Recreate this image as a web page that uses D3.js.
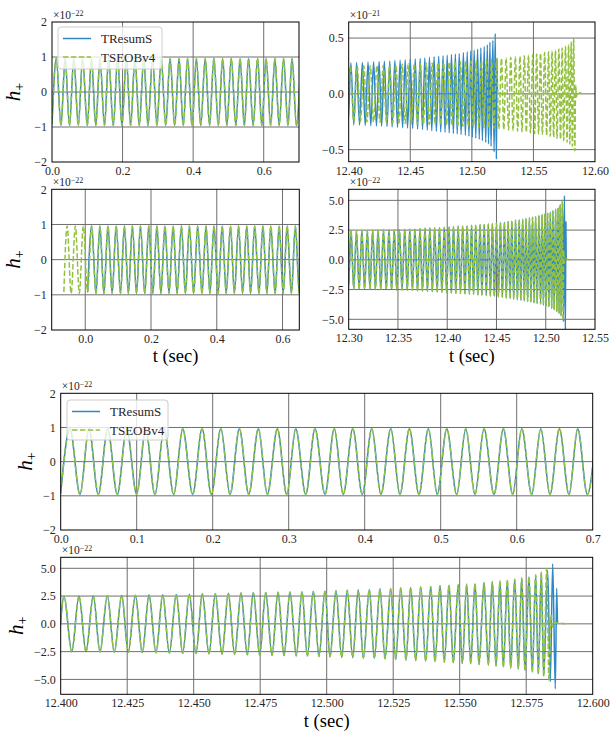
<!DOCTYPE html>
<html><head><meta charset="utf-8">
<script src="https://cdn.jsdelivr.net/npm/d3@7"></script>
<style>body{margin:0;background:#fff}svg{display:block}</style>
</head><body><svg id="c" width="611" height="731"></svg>
<script>
// ---------------- DATA (h+ in units of 1e-22, t in seconds) ----------------
// Early inspiral: extrema (troughs / peaks)
const earlyExtT = [0, 0.0122, 0.0254, 0.0372, 0.0495, 0.0618, 0.0745, 0.0868, 0.1, 0.1118,
  0.124, 0.136, 0.1487, 0.1605, 0.1737, 0.186, 0.1982, 0.2107, 0.2228, 0.2351,
  0.2474, 0.2601, 0.2719, 0.2851, 0.2974, 0.3093, 0.3224, 0.3346, 0.3478, 0.36,
  0.3718, 0.3843, 0.3968, 0.4093, 0.4214, 0.4343, 0.4464, 0.4588, 0.4714, 0.4838,
  0.4955, 0.508, 0.521, 0.533, 0.5451, 0.557, 0.5701, 0.5825, 0.5947, 0.6067,
  0.6197, 0.6317, 0.6438, 0.6562, 0.6688, 0.6803, 0.6929, 0.705];
const earlyExtV = [-0.92, 0.96, -0.96, 0.96, -0.96, 0.96, -0.96, 0.96, -0.96, 0.96,
  -0.96, 0.96, -0.96, 0.96, -0.96, 0.96, -0.96, 0.96, -0.96, 0.96,
  -0.96, 0.96, -0.96, 0.96, -0.96, 0.96, -0.96, 0.96, -0.96, 0.96,
  -0.96, 0.96, -0.96, 0.96, -0.96, 0.96, -0.96, 0.96, -0.96, 0.96,
  -0.96, 0.96, -0.96, 0.96, -0.96, 0.96, -0.96, 0.96, -0.96, 0.96,
  -0.96, 0.96, -0.96, 0.96, -0.96, 0.96, -0.96, 0.96];
// TSEOBv4 cycles before t = 0 (middle-left panel)
const preExtT = [-0.065, -0.055, -0.043, -0.030, -0.018, -0.006];
const preExtV = [-0.92, 0.96, -0.96, 0.96, -0.96, 0.96];
const midLeftShift = 0.0073;

// Late inspiral (common part), times as in the bottom panel
const lateExtT = [12.3629, 12.3656, 12.3684, 12.3711, 12.3739, 12.3766, 12.3794, 12.3821, 12.3849, 12.3876,
  12.3903, 12.3931, 12.3958, 12.3986,
  12.40124, 12.40414, 12.40688, 12.40951, 12.41226, 12.41477, 12.41752, 12.42015, 12.42293, 12.42541,
  12.42805, 12.43068, 12.4332, 12.43583, 12.43835, 12.44083, 12.44346, 12.44586, 12.44835, 12.45086,
  12.45323, 12.45575, 12.45812, 12.46064, 12.46301, 12.46541, 12.46778, 12.47015, 12.47241, 12.47481,
  12.47707, 12.47944, 12.48169, 12.48395, 12.4862, 12.48857, 12.49071, 12.49271, 12.49496, 12.49711,
  12.49936, 12.50124, 12.5035, 12.50564, 12.50774, 12.50977, 12.51188, 12.51376, 12.51602, 12.5179,
  12.52004, 12.52192, 12.52406, 12.52594, 12.52782, 12.52981, 12.53158, 12.53346, 12.53534, 12.53722,
  12.5391, 12.54071, 12.5426, 12.54421, 12.54598, 12.54759, 12.54947, 12.55098, 12.55263, 12.55414,
  12.55575, 12.55726, 12.55914, 12.56075, 12.56226, 12.56365, 12.56515, 12.5664, 12.5679, 12.56917,
  12.57068, 12.57203, 12.57331, 12.57455, 12.57605, 12.57729, 12.57857, 12.57955, 12.58068, 12.58158];
const lateExtV = [2.44, -2.44, 2.45, -2.45, 2.45, -2.46, 2.46, -2.47, 2.47, -2.48,
  2.48, -2.49, 2.49, -2.5,
  2.5, -2.5, 2.5, -2.5, 2.52, -2.52, 2.53, -2.53, 2.55, -2.55,
  2.57, -2.57, 2.6, -2.6, 2.62, -2.62, 2.65, -2.65, 2.67, -2.67,
  2.7, -2.7, 2.72, -2.72, 2.75, -2.75, 2.77, -2.78, 2.8, -2.8,
  2.82, -2.83, 2.85, -2.85, 2.87, -2.88, 2.9, -2.9, 2.92, -2.93,
  2.95, -2.96, 2.98, -3.0, 3.02, -3.03, 3.05, -3.07, 3.1, -3.1,
  3.13, -3.15, 3.17, -3.2, 3.22, -3.25, 3.27, -3.3, 3.32, -3.35,
  3.37, -3.4, 3.42, -3.45, 3.47, -3.5, 3.52, -3.55, 3.57, -3.6,
  3.62, -3.65, 3.7, -3.72, 3.78, -3.8, 3.85, -3.88, 3.93, -3.97,
  4.02, -4.07, 4.12, -4.2, 4.25, -4.35, 4.4, -4.5, 4.65, -4.7];
// merger / ringdown ends
const resumEndT = [12.58308, 12.58406, 12.58496, 12.58594, 12.58646, 12.58677];
const resumEndV = [4.8, -5.2, 5.4, -5.85, 3.2, 0];
const seobEndT = [12.5827, 12.58357, 12.5843, 12.5849, 12.5856, 12.5902];
const seobEndV = [5.0, -5.1, 0.8, -0.3, 0.1, 0];
const resumShift = -0.066;   // time shift of the late waveform in the right-hand panels

// tick values / labels
const xTicksEarly = [0, 0.2, 0.4, 0.6], xLabEarly = ["0.0", "0.2", "0.4", "0.6"];
const xTicksEarlyB = [0, 0.1, 0.2, 0.3, 0.4, 0.5, 0.6, 0.7], xLabEarlyB = ["0.0", "0.1", "0.2", "0.3", "0.4", "0.5", "0.6", "0.7"];
const yTicksEarly = [-2, -1, 0, 1, 2], yLabEarly = ["\u22122", "\u22121", "0", "1", "2"];
const xTicksTR = [12.40, 12.45, 12.50, 12.55, 12.60], xLabTR = ["12.40", "12.45", "12.50", "12.55", "12.60"];
const yTicksTR = [-5, 0, 5], yLabTR = ["\u22120.5", "0.0", "0.5"];
const xTicksMR = [12.30, 12.35, 12.40, 12.45, 12.50, 12.55], xLabMR = ["12.30", "12.35", "12.40", "12.45", "12.50", "12.55"];
const yTicksLate = [-5, -2.5, 0, 2.5, 5], yLabLate = ["\u22125.0", "\u22122.5", "0.0", "2.5", "5.0"];
const xTicksB = [12.4, 12.425, 12.45, 12.475, 12.5, 12.525, 12.55, 12.575, 12.6], xLabB = ["12.400", "12.425", "12.450", "12.475", "12.500", "12.525", "12.550", "12.575", "12.600"];
const seriesNames = ["TResumS", "TSEOBv4"];

// ---------------- DRAWING ----------------
const svg = d3.select('#c');
const FONT = "'Liberation Serif','DejaVu Serif',serif";
const BLUE = '#2f87c4', GREEN = '#93c13f';
const TXT = '#262626';

function pts(parts) {
  const out = [];
  parts.forEach(p => p.t.forEach((t, i) => out.push([t + (p.shift || 0), p.v[i]])));
  return out;
}

let pid = 0;
function panel(c) {
  const id = 'clip' + (pid++);
  const b = c.box;
  const x = d3.scaleLinear().domain(c.xDom).range([b.l, b.r]);
  const y = d3.scaleLinear().domain(c.yDom).range([b.b, b.t]);
  const g = svg.append('g');
  g.append('clipPath').attr('id', id).append('rect')
    .attr('x', b.l).attr('y', b.t).attr('width', b.r - b.l).attr('height', b.b - b.t);
  // grid
  const grid = g.append('g').attr('stroke', '#6f6f6f').attr('stroke-width', 1);
  grid.selectAll('.gx').data(c.xTicks.filter(d => x(d) > b.l + 0.5 && x(d) < b.r - 0.5)).join('line')
    .attr('x1', d => x(d)).attr('x2', d => x(d)).attr('y1', b.t).attr('y2', b.b);
  grid.selectAll('.gy').data(c.yTicks.filter(d => y(d) > b.t + 0.5 && y(d) < b.b - 0.5)).join('line')
    .attr('y1', d => y(d)).attr('y2', d => y(d)).attr('x1', b.l).attr('x2', b.r);
  // data
  const line = d3.line().x(d => x(d[0])).y(d => y(d[1])).curve(d3.curveMonotoneX);
  const dg = g.append('g').attr('clip-path', `url(#${id})`);
  c.series.forEach(s => {
    dg.append('path').attr('d', line(pts(s.parts))).attr('fill', 'none')
      .attr('stroke', s.color).attr('stroke-width', 1.5)
      .attr('stroke-dasharray', s.dash ? '5.5,2.4' : null)
      .attr('stroke-linejoin', 'round');
  });
  // spines
  g.append('rect').attr('x', b.l).attr('y', b.t).attr('width', b.r - b.l).attr('height', b.b - b.t)
    .attr('fill', 'none').attr('stroke', '#000').attr('stroke-width', 1);
  // axes (labels)
  const ax = g.append('g').attr('transform', `translate(0,${b.b})`)
    .call(d3.axisBottom(x).tickValues(c.xTicks).tickFormat((d, i) => c.xLabels[i]).tickSize(0).tickPadding(4.5));
  const ay = g.append('g').attr('transform', `translate(${b.l},0)`)
    .call(d3.axisLeft(y).tickValues(c.yTicks).tickFormat((d, i) => c.yLabels[i]).tickSize(0).tickPadding(5));
  [ax, ay].forEach(a => {
    a.select('.domain').remove();
    a.selectAll('text').attr('font-family', FONT).attr('font-size', 12).attr('fill', TXT);
  });
  // offset text
  const ot = g.append('text').attr('x', b.l + 1).attr('y', b.t - 3)
    .attr('font-family', FONT).attr('font-size', 11.5).attr('fill', TXT);
  ot.append('tspan').text('\u00d710');
  ot.append('tspan').attr('dy', -3.5).attr('font-size', 8).text(c.offsetExp);
  // y label
  if (c.ylabelX) {
    const yl = g.append('text')
      .attr('transform', `translate(${c.ylabelX},${(b.t + b.b) / 2}) rotate(-90)`)
      .attr('text-anchor', 'middle').attr('font-family', FONT).attr('fill', '#000');
    yl.append('tspan').attr('font-style', 'italic').attr('font-size', 21).text('h');
    yl.append('tspan').attr('font-size', 14).attr('dy', 4).text('+');
  }
  if (c.xlabel) {
    g.append('text').attr('x', (b.l + b.r) / 2).attr('y', c.xlabel).attr('text-anchor', 'middle')
      .attr('font-family', FONT).attr('font-size', 18.5).attr('fill', '#000').text('t (sec)');
  }
  if (c.legend) {
    const L = c.legend;
    const lg = g.append('g');
    lg.append('rect').attr('x', L.x).attr('y', L.y).attr('width', L.w).attr('height', L.h)
      .attr('rx', 3).attr('fill', '#fff').attr('fill-opacity', 0.8).attr('stroke', '#cccccc').attr('stroke-width', 1);
    const rows = [{ c: BLUE, dash: false }, { c: GREEN, dash: true }];
    rows.forEach((r, i) => {
      const yy = L.y + 11.5 + i * 18.5;
      lg.append('line').attr('x1', L.x + 5).attr('x2', L.x + 33).attr('y1', yy).attr('y2', yy)
        .attr('stroke', r.c).attr('stroke-width', 1.5).attr('stroke-dasharray', r.dash ? '5.5,2.4' : null);
      lg.append('text').attr('x', L.x + 43).attr('y', yy + 4.5).attr('font-family', FONT)
        .attr('font-size', 13).attr('fill', TXT).text(seriesNames[i]);
    });
  }
}

const earlyBlue = { color: BLUE, parts: [{ t: earlyExtT, v: earlyExtV }] };
const earlyGreen = { color: GREEN, dash: true, parts: [{ t: earlyExtT, v: earlyExtV }] };

// Top-left
panel({ box: { l: 52, r: 299, t: 22, b: 162 }, xDom: [0, 0.7], yDom: [-2, 2],
  xTicks: xTicksEarly, xLabels: xLabEarly, yTicks: yTicksEarly, yLabels: yLabEarly, offsetExp: '\u221222',
  series: [earlyBlue, earlyGreen], legend: { x: 58, y: 27, w: 104, h: 42 }, ylabelX: 20 });
// Top-right
panel({ box: { l: 348.7, r: 595, t: 22, b: 161.7 }, xDom: [12.40, 12.60], yDom: [-6.08, 6.44],
  xTicks: xTicksTR, xLabels: xLabTR, yTicks: yTicksTR, yLabels: yLabTR, offsetExp: '\u221221',
  series: [
    { color: BLUE, parts: [{ t: lateExtT, v: lateExtV, shift: resumShift }, { t: resumEndT, v: resumEndV, shift: resumShift }] },
    { color: GREEN, dash: true, parts: [{ t: lateExtT, v: lateExtV }, { t: seobEndT, v: seobEndV }] }] });
// Middle-left
panel({ box: { l: 51.7, r: 299.3, t: 189.3, b: 330 }, xDom: [-0.102, 0.651], yDom: [-2, 2],
  xTicks: xTicksEarly, xLabels: xLabEarly, yTicks: yTicksEarly, yLabels: yLabEarly, offsetExp: '\u221222',
  series: [
    { color: BLUE, parts: [{ t: earlyExtT, v: earlyExtV, shift: midLeftShift }] },
    { color: GREEN, dash: true, parts: [{ t: preExtT, v: preExtV }, { t: earlyExtT, v: earlyExtV, shift: midLeftShift }] }],
  ylabelX: 20, xlabel: 362 });
// Middle-right
panel({ box: { l: 348.7, r: 595, t: 189.3, b: 329.3 }, xDom: [12.30, 12.55], yDom: [-5.84, 5.93],
  xTicks: xTicksMR, xLabels: xLabMR, yTicks: yTicksLate, yLabels: yLabLate, offsetExp: '\u221222',
  series: [
    { color: BLUE, parts: [{ t: lateExtT, v: lateExtV, shift: resumShift }, { t: resumEndT, v: resumEndV, shift: resumShift }] },
    { color: GREEN, dash: true, parts: [{ t: lateExtT, v: lateExtV, shift: resumShift }, { t: seobEndT, v: seobEndV, shift: resumShift }] }],
  xlabel: 362 });
// Bottom 1
panel({ box: { l: 60.7, r: 592.7, t: 393.3, b: 530 }, xDom: [0, 0.7], yDom: [-2, 2],
  xTicks: xTicksEarlyB, xLabels: xLabEarlyB, yTicks: yTicksEarly, yLabels: yLabEarly, offsetExp: '\u221222',
  series: [earlyBlue, earlyGreen], legend: { x: 67, y: 400, w: 101, h: 40 }, ylabelX: 32 });
// Bottom 2
panel({ box: { l: 60.7, r: 592.7, t: 557.3, b: 694.3 }, xDom: [12.4, 12.6], yDom: [-6.34, 5.99],
  xTicks: xTicksB, xLabels: xLabB, yTicks: yTicksLate, yLabels: yLabLate, offsetExp: '\u221222',
  series: [
    { color: BLUE, parts: [{ t: lateExtT, v: lateExtV }, { t: resumEndT, v: resumEndV }] },
    { color: GREEN, dash: true, parts: [{ t: lateExtT, v: lateExtV }, { t: seobEndT, v: seobEndV }] }],
  ylabelX: 23, xlabel: 727 });
</script></body></html>
